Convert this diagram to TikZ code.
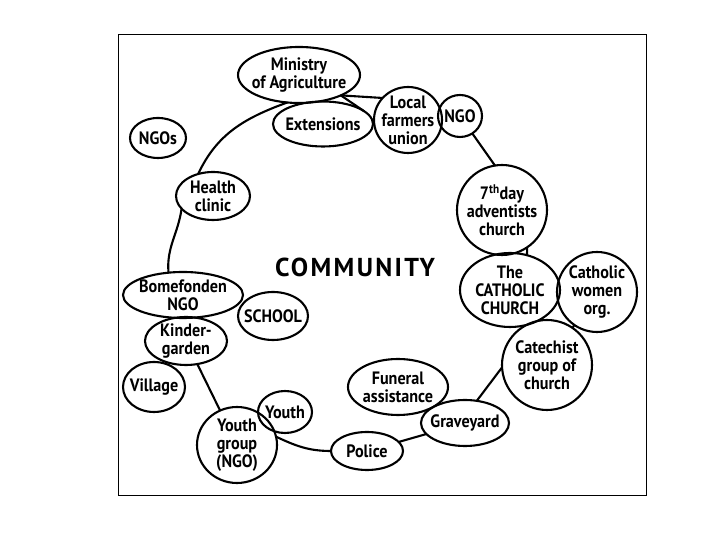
\documentclass[tikz,border=0pt]{standalone}
\usepackage{fontspec}
\setmainfont{PT Sans}[FakeStretch=0.9]
\newfontfamily\comfont{PT Sans}[LetterSpace=9]
\usetikzlibrary{shapes.geometric, positioning}

\tikzset{
    bubble/.style={ellipse, draw, line width=2.1bp, inner sep=0pt, outer sep=0pt},
    bubtext/.style={align=center, inner sep=0pt, font=\fontsize{18}{18}\selectfont\bfseries},
    link/.style={line width=2.1bp},
}

\begin{document}
\begin{tikzpicture}[x=1bp, y=1bp]
    \useasboundingbox (0,0) rectangle (720,540);
    \draw[line width=0.8bp] (118,45) rectangle (646,506);

    % top of the ring
    \node[bubble, minimum width=122bp, minimum height=56bp, label={[bubtext]center:{Ministry\\of Agriculture}}] (min) at (299,465) {};
    \node[bubble, minimum width=100bp, minimum height=45bp, label={[bubtext]center:Extensions}] (ext) at (323,416) {};
    \node[bubble, minimum width=68bp, minimum height=66bp, label={[bubtext]center:{Local\\farmers\\union}}] (lfu) at (408,420) {};
    \node[bubble, minimum width=44bp, minimum height=42bp, label={[bubtext]center:NGO}] (ngo) at (460,424) {};
    \node[bubble, minimum width=56bp, minimum height=40bp, label={[bubtext]center:NGOs}] (ngos) at (158,402) {};

    % churches
    \node[bubble, minimum width=90bp, minimum height=90bp, label={[bubtext]center:{7\textsuperscript{th}day\\adventists\\church}}] (sda) at (502,330) {};
    \node[bubble, minimum width=100bp, minimum height=74bp, label={[bubtext]center:{The\\CATHOLIC\\CHURCH}}] (cc) at (510,250) {};
    \node[bubble, minimum width=80bp, minimum height=80bp, label={[bubtext]center:{Catholic\\women\\org.}}] (cw) at (597,248) {};
    \node[bubble, minimum width=90bp, minimum height=90bp, label={[bubtext]center:{Catechist\\group of\\church}}] (cat) at (547,175) {};

    % bottom of the ring
    \node[bubble, minimum width=100bp, minimum height=56bp, label={[bubtext]center:{Funeral\\assistance}}] (fun) at (398,153) {};
    \node[bubble, minimum width=88bp, minimum height=46bp, label={[bubtext]center:Graveyard}] (gy) at (465,117) {};
    \node[bubble, minimum width=72bp, minimum height=38bp, label={[bubtext]center:Police}] (pol) at (367,89) {};
    \node[bubble, minimum width=80bp, minimum height=76bp, label={[bubtext]center:{Youth\\group\\(NGO)}}] (yg) at (237,95) {};
    \node[bubble, minimum width=54bp, minimum height=42bp, label={[bubtext]center:Youth}] (you) at (285,128) {};

    % left side
    \node[bubble, minimum width=62bp, minimum height=50bp, label={[bubtext]center:Village}] (vil) at (154,153) {};
    \node[bubble, minimum width=82bp, minimum height=48bp, label={[bubtext]center:{Kinder-\\garden}}] (kg) at (186,199) {};
    \node[bubble, minimum width=120bp, minimum height=46bp, label={[bubtext]center:{Bomefonden\\NGO}}] (bome) at (183,245) {};
    \node[bubble, minimum width=70bp, minimum height=48bp, label={[bubtext]center:SCHOOL}] (sch) at (273,224) {};
    \node[bubble, minimum width=74bp, minimum height=48bp, label={[bubtext]center:{Health\\clinic}}] (hc) at (213,344) {};

    \node[font=\comfont\fontsize{26}{26}\selectfont\bfseries] (com) at (355,273) {COMMUNITY};

    % ring
    \draw[link] (min.247) to[out=200, in=65] (hc.124);
    \draw[link] (hc.202) to[out=262, in=95] (bome.123);
    \draw[link] (kg) -- (yg);
    \draw[link] (yg.12) to[out=-25, in=180] (pol.180);
    \draw[link] (pol) -- (gy);
    \draw[link] (gy.62) -- (cat.183);
    \draw[link] (cc) -- (cat);
    \draw[link] (cw) -- (cat);
    \draw[link] (sda.-56) -- (cc.64);
    \draw[link] (ngo) -- (sda.99);
    \draw[link] (min.-26) -- (lfu.139);
    \draw[link] (min.-26) -- (ext.17);
\end{tikzpicture}
\end{document}
